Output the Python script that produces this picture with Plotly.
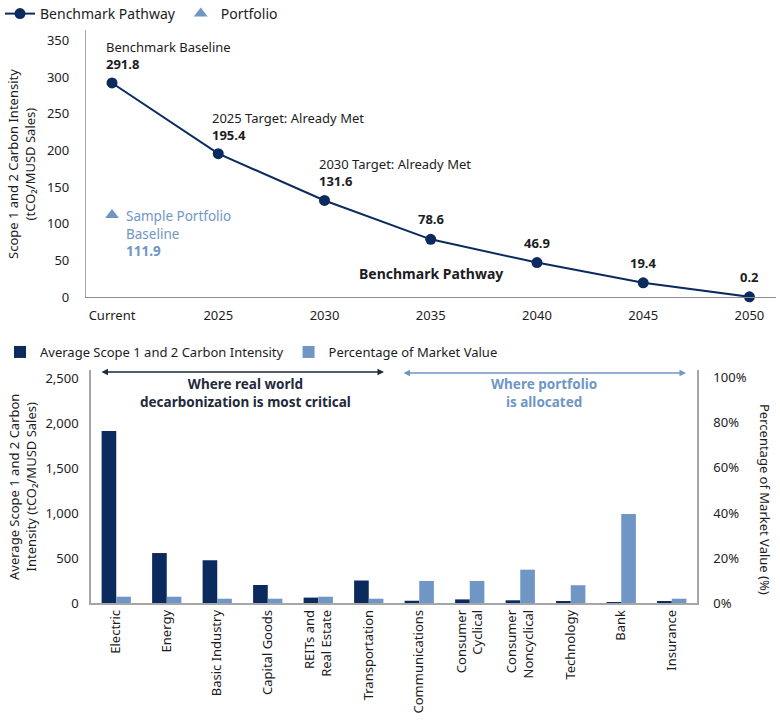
import plotly.graph_objects as go

# ---------------- data ----------------
years = ["Current", "2025", "2030", "2035", "2040", "2045", "2050"]
pathway = [291.8, 195.4, 131.6, 78.6, 46.9, 19.4, 0.2]
point_notes = ["Benchmark Baseline", "2025 Target: Already Met", "2030 Target: Already Met", "", "", "", ""]
portfolio_value = 111.9

sectors = ["Electric", "Energy", "Basic Industry", "Capital Goods", "REITs and<br>Real Estate",
           "Transportation", "Communications", "Consumer<br>Cyclical", "Consumer<br>Noncyclical",
           "Technology", "Bank", "Insurance"]
intensity = [1910, 555, 475, 200, 60, 250, 25, 40, 30, 20, 3, 12]
pct_market = [0.028, 0.028, 0.019, 0.019, 0.028, 0.019, 0.098, 0.098, 0.148, 0.079, 0.395, 0.019]

# ---------------- styles ----------------
DARK = "#0b2a5e"
LIGHT = "#7096c6"
TXT = "#1c1c24"
AXIS = "#a6a6a6"
FONT = "Noto Sans"
W, H = 780, 720

def px_x(p):
    return p / W

def px_y(p):
    return 1 - p / H

xs = list(range(len(years)))

fig = go.Figure()

fig.add_trace(go.Scatter(
    x=xs, y=pathway, mode="lines+markers", name="Benchmark Pathway",
    line=dict(color=DARK, width=2), marker=dict(color=DARK, size=11),
    xaxis="x", yaxis="y", legend="legend", cliponaxis=False))
fig.add_trace(go.Scatter(
    x=[xs[0]], y=[portfolio_value], mode="markers", name="Portfolio",
    marker=dict(color=LIGHT, size=12, symbol="triangle-up"),
    xaxis="x", yaxis="y", legend="legend"))

fig.add_trace(go.Bar(
    x=sectors, y=intensity, name="Average Scope 1 and 2 Carbon Intensity",
    marker=dict(color=DARK, line=dict(width=0)), width=0.29, offset=-0.29,
    xaxis="x2", yaxis="y2", legend="legend2"))
fig.add_trace(go.Bar(
    x=sectors, y=pct_market, name="Percentage of Market Value",
    marker=dict(color=LIGHT, line=dict(width=0)), width=0.29, offset=0,
    xaxis="x2", yaxis="y3", legend="legend2"))

annotations = []
# point labels on the pathway
for i, (v, note) in enumerate(zip(pathway, point_notes)):
    if note:
        annotations.append(dict(
            x=xs[i], y=v, xref="x", yref="y", text=f"{note}<br><b>{v}</b>",
            showarrow=False, xanchor="left", yanchor="bottom", align="left",
            xshift=-8, yshift=8, font=dict(family=FONT, size=13, color=TXT)))
    else:
        annotations.append(dict(
            x=xs[i], y=v, xref="x", yref="y", text=f"<b>{v}</b>",
            showarrow=False, xanchor="center", yanchor="bottom",
            yshift=9, font=dict(family=FONT, size=13, color=TXT)))

annotations.append(dict(
    x=xs[0], y=portfolio_value, xref="x", yref="y",
    text=f"Sample Portfolio<br>Baseline<br><b>{portfolio_value}</b>",
    showarrow=False, xanchor="left", yanchor="top", align="left",
    xshift=12, yshift=10, font=dict(family=FONT, size=13.5, color=LIGHT)))

annotations.append(dict(
    x=px_x(431), y=px_y(273), xref="paper", yref="paper",
    text="<b>Benchmark Pathway</b>", showarrow=False,
    xanchor="center", yanchor="middle", font=dict(family=FONT, size=14, color=TXT)))

# axis titles
annotations.append(dict(
    x=px_x(22), y=px_y(164), xref="paper", yref="paper",
    text="Scope 1 and 2 Carbon Intensity<br>(tCO₂/MUSD Sales)", textangle=-90,
    showarrow=False, xanchor="center", yanchor="middle",
    font=dict(family=FONT, size=13, color=TXT)))
annotations.append(dict(
    x=px_x(22), y=px_y(487), xref="paper", yref="paper",
    text="Average Scope 1 and 2 Carbon<br>Intensity (tCO₂/MUSD Sales)", textangle=-90,
    showarrow=False, xanchor="center", yanchor="middle",
    font=dict(family=FONT, size=13, color=TXT)))
annotations.append(dict(
    x=px_x(765), y=px_y(499), xref="paper", yref="paper",
    text="Percentage of Market Value (%)", textangle=90,
    showarrow=False, xanchor="center", yanchor="middle",
    font=dict(family=FONT, size=13, color=TXT)))

# region arrows
annotations.append(dict(
    x=px_x(384), y=px_y(372), xref="paper", yref="paper", text="",
    showarrow=True, ax=-284, ay=0, axref="pixel", ayref="pixel",
    arrowside="end+start", arrowhead=2, arrowsize=1, arrowwidth=1.3, arrowcolor="#1f2a3c"))
annotations.append(dict(
    x=px_x(686), y=px_y(373), xref="paper", yref="paper", text="",
    showarrow=True, ax=-284, ay=0, axref="pixel", ayref="pixel",
    arrowside="end+start", arrowhead=2, arrowsize=1, arrowwidth=1.3, arrowcolor=LIGHT))
annotations.append(dict(
    x=px_x(245), y=px_y(393), xref="paper", yref="paper",
    text="<b>Where real world<br>decarbonization is most critical</b>",
    showarrow=False, xanchor="center", yanchor="middle",
    font=dict(family=FONT, size=13.5, color="#1f2a3c")))
annotations.append(dict(
    x=px_x(544), y=px_y(393), xref="paper", yref="paper",
    text="<b>Where portfolio<br>is allocated</b>",
    showarrow=False, xanchor="center", yanchor="middle",
    font=dict(family=FONT, size=13.5, color=LIGHT)))

tickfont = dict(family=FONT, size=13, color=TXT)

fig.update_layout(
    width=W, height=H,
    margin=dict(l=0, r=0, t=0, b=0, autoexpand=False),
    paper_bgcolor="white", plot_bgcolor="white",
    font=dict(family=FONT, size=13, color=TXT),
    showlegend=True,
    barmode="overlay",
    xaxis=dict(domain=[px_x(86), px_x(776)], range=[-0.245, 6.25],
               tickmode="array", tickvals=xs, ticktext=years,
               showline=True, linecolor="#8c8c8c", linewidth=1.3,
               showgrid=False, zeroline=False, ticks="", tickfont=tickfont,
               anchor="y", automargin=False, ticklabelstandoff=6),
    yaxis=dict(domain=[px_y(297), px_y(30)], range=[0, 364], dtick=50,
               showline=True, linecolor=AXIS, linewidth=1.3,
               showgrid=False, zeroline=False, ticks="", tickfont=tickfont,
               anchor="x", ticklabelstandoff=13, automargin=False),
    xaxis2=dict(domain=[px_x(91), px_x(697)], anchor="y2",
                showline=True, linecolor=AXIS, linewidth=1.5,
                showgrid=False, zeroline=False, ticks="", tickangle=-90,
                tickfont=tickfont, automargin=False),
    yaxis2=dict(domain=[px_y(603), px_y(370)], range=[0, 2589], dtick=500,
                tickformat=",d", anchor="x2",
                showline=True, linecolor=AXIS, linewidth=1.5,
                showgrid=False, zeroline=False, ticks="", tickfont=tickfont,
                ticklabelstandoff=8, automargin=False),
    yaxis3=dict(overlaying="y2", side="right", anchor="x2", range=[0, 1.035],
                dtick=0.2, tickformat=".0%",
                showline=True, linecolor=AXIS, linewidth=1.5,
                showgrid=False, zeroline=False, ticks="", tickfont=tickfont,
                ticklabelstandoff=12, automargin=False),
    legend=dict(orientation="h", x=0.0, xanchor="left", y=px_y(14), yanchor="middle",
                font=dict(family=FONT, size=14, color=TXT), itemwidth=30,
                bgcolor="rgba(0,0,0,0)", traceorder="normal"),
    legend2=dict(orientation="h", x=0.0, xanchor="left", y=px_y(352), yanchor="middle",
                 font=dict(family=FONT, size=13, color=TXT), itemwidth=30,
                 bgcolor="rgba(0,0,0,0)", traceorder="normal"),
    annotations=annotations,
)

fig.write_html("out.html")
